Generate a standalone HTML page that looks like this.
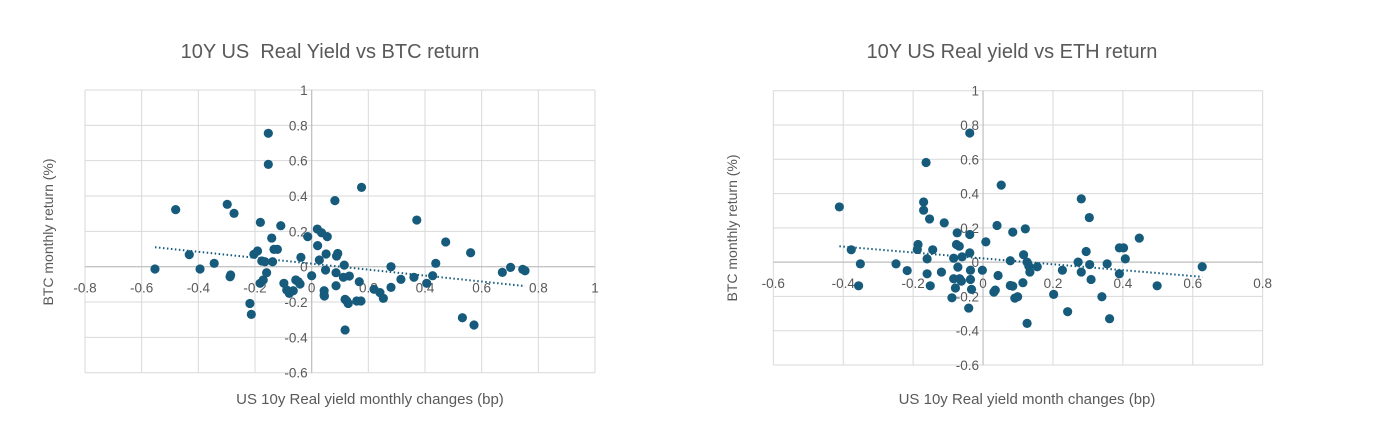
<!DOCTYPE html>
<html><head><meta charset="utf-8">
<style>
html,body{margin:0;padding:0;background:#fff;}
body{width:1400px;height:428px;overflow:hidden;font-family:"Liberation Sans",sans-serif;}
svg text{font-family:"Liberation Sans",sans-serif;fill:#595959;}
</style></head>
<body>
<svg id="root" width="1400" height="428" viewBox="0 0 1400 428" xmlns="http://www.w3.org/2000/svg"></svg>
<script>
// Left chart data: BTC
const btcX = [-0.553,-0.48,-0.432,-0.394,-0.344,-0.298,-0.274,-0.288,-0.286,-0.218,-0.213,-0.204,-0.191,-0.181,-0.176,-0.171,-0.182,-0.165,-0.159,-0.153,-0.153,-0.141,-0.138,-0.133,-0.121,-0.109,-0.098,-0.088,-0.079,-0.065,-0.056,-0.047,-0.041,-0.038,-0.014,0,0.02,0.021,0.027,0.035,0.049,0.051,0.055,0.044,0.044,0.045,0.082,0.086,0.086,0.088,0.092,0.115,0.112,0.118,0.124,0.118,0.133,0.129,0.159,0.168,0.174,0.176,0.22,0.241,0.253,0.28,0.28,0.315,0.361,0.371,0.406,0.427,0.438,0.473,0.532,0.561,0.573,0.673,0.702,0.745,0.753];
const btcY = [-0.013,0.323,0.068,-0.013,0.019,0.353,0.302,-0.057,-0.047,-0.208,-0.27,0.07,0.089,0.251,0.032,-0.075,-0.094,0.028,-0.034,0.755,0.579,0.162,0.028,0.098,0.098,0.232,-0.094,-0.132,-0.151,-0.136,-0.075,-0.085,-0.098,0.053,0.17,-0.051,0.213,0.119,0.038,0.192,-0.019,0.072,0.17,-0.136,-0.16,-0.166,0.374,-0.108,-0.034,0.06,0.075,0.009,-0.06,-0.185,-0.194,-0.358,-0.053,-0.208,-0.194,-0.085,-0.194,0.449,-0.128,-0.147,-0.179,0,-0.117,-0.072,-0.06,0.264,-0.094,-0.051,0.019,0.14,-0.289,0.079,-0.33,-0.032,-0.004,-0.015,-0.023];
const btcXTicks = [-0.8,-0.6,-0.4,-0.2,0,0.2,0.4,0.6,0.8,1];
const btcYTicks = [-0.6,-0.4,-0.2,0,0.2,0.4,0.6,0.8,1];
// Right chart data: ETH
const ethX = [-0.411,-0.377,-0.351,-0.356,-0.249,-0.217,-0.186,-0.188,-0.17,-0.17,-0.16,-0.16,-0.153,-0.151,-0.144,-0.119,-0.163,-0.111,-0.084,-0.084,-0.079,-0.076,-0.074,-0.072,-0.068,-0.067,-0.062,-0.06,-0.089,-0.038,-0.038,-0.038,-0.036,-0.036,-0.033,-0.041,-0.002,0.008,0.031,0.035,0.04,0.043,0.052,0.078,0.078,0.085,0.085,0.091,0.099,0.114,0.116,0.121,0.126,0.131,0.134,0.126,0.155,0.202,0.227,0.242,0.272,0.281,0.281,0.295,0.304,0.305,0.309,0.34,0.355,0.362,0.39,0.39,0.402,0.407,0.447,0.498,0.627];
const ethY = [0.322,0.072,-0.01,-0.138,-0.01,-0.049,0.103,0.074,0.351,0.303,0.019,-0.068,0.252,-0.138,0.072,-0.058,0.581,0.229,0.023,-0.097,-0.151,0.103,0.171,-0.029,0.093,-0.097,-0.111,0.031,-0.208,0.753,0.161,0.054,-0.047,-0.101,-0.159,-0.268,-0.047,0.118,-0.175,-0.163,0.214,-0.078,0.449,0.008,-0.136,-0.14,0.175,-0.21,-0.202,-0.12,0.043,0.194,0,-0.023,-0.058,-0.357,-0.027,-0.188,-0.047,-0.289,0,0.369,-0.058,0.062,0.26,-0.014,-0.101,-0.202,-0.01,-0.33,-0.068,0.083,0.083,0.019,0.14,-0.138,-0.027];
const ethXTicks = [-0.6,-0.4,-0.2,0,0.2,0.4,0.6,0.8];
const ethYTicks = [-0.6,-0.4,-0.2,0,0.2,0.4,0.6,0.8,1];

const NS = "http://www.w3.org/2000/svg";
const root = document.getElementById('root');
function mk(tag, attrs, parent){
  const e = document.createElementNS(NS, tag);
  for (const k in attrs) e.setAttribute(k, attrs[k]);
  (parent||root).appendChild(e);
  return e;
}
function fmt(v){ return String(Math.round(v*10)/10); }

function drawChart(c, xs, ys, xt, yt, name){
  const g = mk('g', {});
  
  
  const xmin = xt[0], xmax = xt[xt.length-1], ymin = yt[0], ymax = yt[yt.length-1];
  const sx = v => c.x0 + (v - xmin) / (xmax - xmin) * (c.x1 - c.x0);
  const sy = v => c.y1 - (v - ymin) / (ymax - ymin) * (c.y1 - c.y0);
  const t = mk('text', {x: c.tx, y: 58, 'text-anchor':'middle', 'font-size': 20}, g);
  t.textContent = c.title;
  
  
  xt.forEach(v => {
    const l = mk('line', {x1: sx(v), x2: sx(v), y1: c.y0, y2: c.y1, stroke: '#d9d9d9', 'stroke-width': 1}, g);
    
    
  });
  yt.forEach(v => {
    const l = mk('line', {x1: c.x0, x2: c.x1, y1: sy(v), y2: sy(v), stroke: '#d9d9d9', 'stroke-width': 1}, g);
    
    
  });
  const ax = mk('line', {x1: sx(0), x2: sx(0), y1: c.y0, y2: c.y1, stroke: '#bfbfbf', 'stroke-width': 1.2}, g);
  
  
  const ay = mk('line', {x1: c.x0, x2: c.x1, y1: sy(0), y2: sy(0), stroke: '#bfbfbf', 'stroke-width': 1.2}, g);
  
  
  xt.forEach(v => {
    const tl = mk('text', {x: sx(v), y: sy(0) + 26, 'text-anchor':'middle', 'font-size': 13.5}, g);
    tl.textContent = fmt(v);
    
    
  });
  yt.forEach(v => {
    const tl = mk('text', {x: sx(0) - 4, y: sy(v) + 5, 'text-anchor':'end', 'font-size': 13.5}, g);
    tl.textContent = fmt(v);
    
    
  });
  xs.forEach((xv, i) => {
    const p = mk('circle', {cx: sx(xv), cy: sy(ys[i]), r: 4.6, fill: '#165b7c'}, g);
    
    
  });
  const n = xs.length;
  let mx = 0, my = 0; xs.forEach((v,i)=>{mx+=v; my+=ys[i];}); mx/=n; my/=n;
  let num = 0, den = 0; xs.forEach((v,i)=>{num+=(v-mx)*(ys[i]-my); den+=(v-mx)*(v-mx);});
  const b = num/den, a = my - b*mx;
  const lo = Math.min(...xs), hi = Math.max(...xs);
  const tr = mk('line', {x1: sx(lo), y1: sy(a+b*lo), x2: sx(hi), y2: sy(a+b*hi), stroke: '#165b7c', 'stroke-width': 2, 'stroke-dasharray': '1.5 2.5'}, g);
  
  
  const xtl = mk('text', {x: c.xtx, y: 404, 'text-anchor':'middle', 'font-size': 15}, g);
  xtl.textContent = c.xTitle;
  
  
  const ytl = mk('text', {x: 0, y: 0, 'text-anchor':'middle', 'font-size': 14, transform: 'translate(' + c.ytx + ',' + c.yty + ') rotate(-90)'}, g);
  ytl.textContent = c.yTitle;
  
  
}

drawChart({x0:85, x1:595, y0:90, y1:372.7, tx:330, title:'10Y US\u00a0 Real Yield vs BTC return', xtx:370, xTitle:'US 10y Real yield monthly changes (bp)', ytx:53, yty:232, yTitle:'BTC monthly return (%)'}, btcX, btcY, btcXTicks, btcYTicks, 'btc-chart');
drawChart({x0:773.3, x1:1262.7, y0:90.7, y1:365, tx:1012, title:'10Y US Real yield vs ETH return', xtx:1027, xTitle:'US 10y Real yield month changes (bp)', ytx:737, yty:228, yTitle:'BTC monthly return (%)'}, ethX, ethY, ethXTicks, ethYTicks, 'eth-chart');
</script>
</body></html>
